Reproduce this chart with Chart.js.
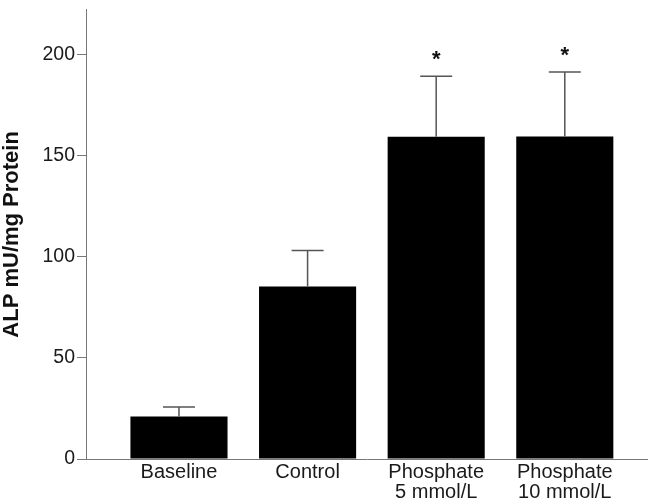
<!DOCTYPE html>
<html>
<head>
<meta charset="utf-8">
<script src="https://cdn.jsdelivr.net/npm/chart.js@4/dist/chart.umd.min.js"></script>
<style>
html,body{margin:0;padding:0;background:#fff;}
#wrap{width:648px;height:502px;position:relative;}
</style>
</head>
<body>
<div id="wrap"><canvas id="c" width="648" height="502"></canvas></div>
<script>
const categories = [["Baseline"], ["Control"], ["Phosphate", "5 mmol/L"], ["Phosphate", "10 mmol/L"]];
const means = [21, 85.2, 159.2, 159.4];
const errorTops = [25.7, 103.1, 189.1, 191.3];
const significant = [false, false, true, true];
const yTicks = [0, 50, 100, 150, 200];

const points = means.map((v, i) => ({x: i, y: v}));

const errorPlugin = {
  id: 'errorbars',
  afterDatasetsDraw(chart) {
    const ctx = chart.ctx;
    const xs = chart.scales.x, ys = chart.scales.y;
    ctx.save();
    ctx.strokeStyle = '#555';
    ctx.lineWidth = 1.5;
    means.forEach((m, i) => {
      const x = xs.getPixelForValue(i);
      const y0 = ys.getPixelForValue(m);
      const y1 = ys.getPixelForValue(errorTops[i]);
      ctx.beginPath();
      ctx.moveTo(x, y0);
      ctx.lineTo(x, y1);
      ctx.moveTo(x - 16, y1);
      ctx.lineTo(x + 16, y1);
      ctx.stroke();
      if (significant[i]) {
        ctx.fillStyle = '#111';
        ctx.font = 'bold 22px "Liberation Sans", Arial, sans-serif';
        ctx.textAlign = 'center';
        ctx.textBaseline = 'alphabetic';
        ctx.fillText('*', x, y1 - 10);
      }
    });
    ctx.restore();
  }
};

new Chart(document.getElementById('c'), {
  type: 'bar',
  data: {
    datasets: [{
      data: points,
      backgroundColor: '#000',
      borderWidth: 0,
      barPercentage: 0.755,
      categoryPercentage: 1
    }]
  },
  options: {
    responsive: false,
    animation: false,
    layout: {padding: {top: 8, right: 0, left: 0, bottom: 0}},
    plugins: {legend: {display: false}, tooltip: {enabled: false}},
    scales: {
      x: {
        type: 'linear',
        offset: false,
        min: -0.723,
        max: 3.647,
        afterBuildTicks(scale) { scale.ticks = categories.map((c, i) => ({value: i})); },
        afterFit(scale) { scale.height = 43; },
        grid: {display: false, drawTicks: false, tickLength: 0, offset: false},
        border: {color: '#777', width: 1},
        ticks: {
          autoSkip: false,
          maxRotation: 0,
          padding: 4,
          color: '#1a1a1a',
          font: {family: '"Liberation Sans", Arial, sans-serif', size: 20, lineHeight: 0.98},
          callback(v) { return categories[Math.round(v)]; }
        }
      },
      y: {
        min: 0,
        max: 222,
        afterBuildTicks(scale) { scale.ticks = yTicks.map(v => ({value: v})); },
        afterFit(scale) { scale.width = 86; },
        grid: {drawOnChartArea: false, drawTicks: true, tickLength: 9, color: '#777'},
        border: {color: '#777', width: 1},
        ticks: {
          padding: 2,
          color: '#1a1a1a',
          font: {family: '"Liberation Sans", Arial, sans-serif', size: 19.5, lineHeight: 0.8}
        },
        title: {
          display: true,
          text: 'ALP mU/mg Protein',
          color: '#111',
          padding: {top: 1, bottom: 0},
          font: {family: '"Liberation Sans", Arial, sans-serif', size: 22, weight: 'bold', lineHeight: 1.0}
        }
      }
    }
  },
  plugins: [errorPlugin]
});
</script>
</body>
</html>
